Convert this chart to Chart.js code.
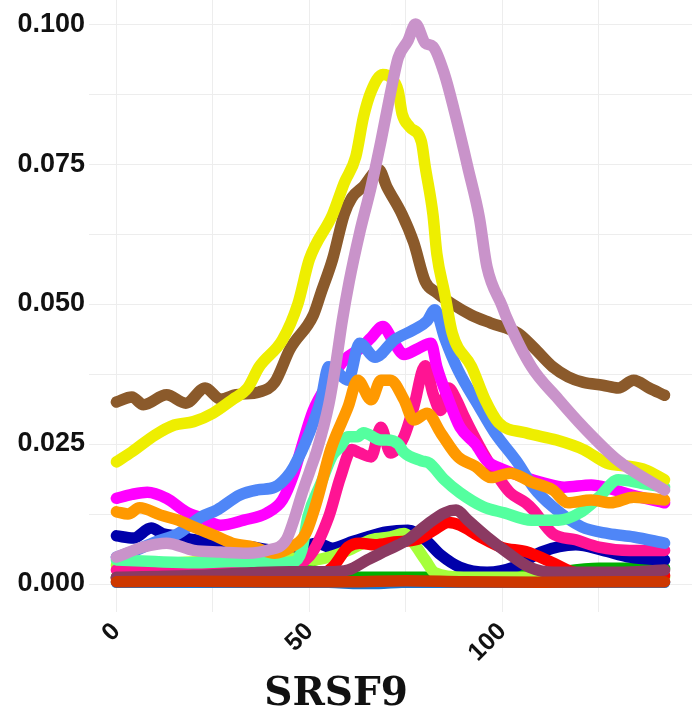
<!DOCTYPE html>
<html>
<head>
<meta charset="utf-8">
<script src="https://cdn.jsdelivr.net/npm/chart.js@4/dist/chart.umd.min.js"></script>
<style>
  html, body { margin: 0; padding: 0; background: #fff; }
</style>
</head>
<body>
<canvas id="chart" width="698" height="709"></canvas>
<script>
// profile along the transcript window (position, density), one array per sample
const geneName = 'SRSF9';

const xGrid = [0, 25, 50, 75, 100, 125];
const yGrid = [0, 0.0125, 0.025, 0.0375, 0.05, 0.0625, 0.075, 0.0875, 0.1];

const brown = [[0,0.0325],[4,0.0334],[7,0.032],[13,0.0338],[18,0.0323],[23,0.035],[27,0.033],[31,0.0338],[37,0.0343],[41,0.036],[45,0.042],[51,0.048],[53,0.052],[56,0.058],[59,0.066],[61,0.069],[64,0.071],[68,0.074],[70,0.071],[74,0.066],[77,0.061],[80,0.054],[83,0.052],[87,0.050],[92,0.048],[97,0.0466],[104,0.0448],[108,0.0423],[113,0.0388],[117,0.037],[121,0.036],[126,0.0355],[130,0.035],[134,0.0364],[138,0.035],[142,0.0337]];

const yellow = [[0,0.0218],[4,0.0236],[10,0.0266],[15,0.0284],[20,0.029],[25,0.0305],[30,0.0329],[34,0.035],[37,0.0388],[43,0.0436],[47,0.05],[50,0.058],[56,0.066],[59,0.0716],[62,0.0763],[64,0.0834],[66,0.088],[69,0.091],[71,0.0905],[73,0.088],[74,0.084],[76,0.0816],[79,0.079],[80,0.0745],[82,0.066],[83,0.059],[85,0.052],[87,0.0448],[92,0.0388],[95.5,0.0329],[99,0.0288],[106,0.027],[114,0.0257],[121,0.024],[127,0.0216],[133,0.021],[137,0.0204],[142,0.0186]];

const plum = [[0,0.0048],[7,0.0066],[13,0.0073],[20,0.006],[27,0.0057],[34,0.0055],[39,0.006],[44,0.0079],[46,0.0115],[48,0.016],[50,0.02],[52,0.024],[55,0.032],[57,0.04],[58.5,0.047],[60.3,0.054],[63,0.0627],[66,0.071],[68.5,0.079],[71,0.0877],[73,0.094],[75.5,0.097],[77.5,0.1],[80,0.0966],[82,0.096],[85,0.091],[87.5,0.0846],[90,0.0775],[91,0.0745],[94,0.0655],[96,0.0566],[100,0.0495],[101,0.0477],[107.5,0.0388],[114.5,0.033],[121,0.028],[130,0.022],[139,0.018],[142,0.0168]];

const cornflower = [[0,0.0048],[5,0.006],[10,0.0075],[16,0.009],[22,0.012],[26,0.0132],[32,0.0159],[36.5,0.0168],[41,0.0173],[44,0.019],[46,0.021],[50,0.027],[53,0.033],[55,0.0388],[57,0.038],[60,0.0364],[63,0.043],[67,0.0405],[72,0.0436],[77,0.0454],[80.5,0.047],[82.5,0.049],[85,0.044],[88.5,0.0382],[94,0.0316],[98,0.027],[104,0.0216],[108,0.0173],[113,0.0138],[120.5,0.0102],[127.5,0.009],[134,0.0084],[142,0.0073]];

const magenta = [[0,0.0153],[4,0.016],[8,0.0164],[13,0.0153],[18,0.0129],[22,0.0118],[27,0.0105],[33,0.0114],[39,0.0127],[43,0.015],[46,0.0198],[48,0.0245],[51,0.031],[55,0.036],[59,0.04],[63,0.042],[66,0.044],[69,0.046],[72,0.043],[74.5,0.041],[78,0.042],[81.5,0.043],[83,0.0388],[86,0.033],[89,0.028],[93,0.025],[96,0.022],[100,0.0205],[106,0.019],[111,0.018],[116,0.0173],[123,0.0177],[128,0.017],[134,0.0158],[142,0.0145]];

const deepPink = [[0,0.0025],[20,0.0025],[40,0.0025],[50,0.005],[55,0.012],[58,0.019],[61,0.024],[63,0.0234],[66,0.0227],[68.5,0.028],[71,0.0234],[74.5,0.0263],[77,0.0316],[80,0.039],[82,0.034],[84,0.031],[86,0.035],[88,0.033],[90,0.03],[95,0.0234],[99,0.019],[102,0.0163],[106,0.0145],[108,0.0132],[113,0.009],[119,0.0079],[125,0.0066],[133,0.006],[142,0.006]];

const orange = [[0,0.0129],[3,0.0125],[6,0.0136],[11.5,0.0123],[16,0.0114],[20,0.0102],[25,0.0088],[30,0.0073],[35.5,0.0066],[41,0.0055],[45,0.0065],[49,0.009],[52,0.015],[55.5,0.024],[60,0.0316],[62.5,0.0364],[66,0.0329],[68.5,0.0364],[71,0.0364],[74.5,0.0329],[77,0.0293],[80.5,0.0305],[84,0.027],[88.5,0.0227],[93,0.021],[97,0.019],[102,0.0198],[107.5,0.0182],[113,0.0168],[117,0.0145],[123,0.015],[128,0.0145],[134,0.0155],[142,0.015]];

const aquamarine = [[0,0.0043],[10,0.004],[20,0.0038],[30,0.004],[40,0.0038],[46,0.004],[48,0.006],[49.6,0.012],[53,0.018],[56,0.023],[58,0.0245],[60,0.0263],[62.5,0.0263],[64,0.027],[68.5,0.0257],[70,0.0257],[73,0.025],[74.5,0.0235],[79,0.022],[81,0.0216],[85,0.0186],[89,0.0163],[95,0.0138],[100.5,0.0127],[107.5,0.0114],[114.5,0.0114],[120,0.0127],[125,0.0155],[130,0.0186],[136,0.018],[142,0.0173]];

const navy = [[0,0.0086],[4.4,0.0082],[9,0.01],[12,0.009],[16,0.0085],[20,0.0079],[25,0.0075],[30,0.007],[35,0.0066],[41,0.006],[45,0.0065],[48,0.0066],[52,0.0073],[56,0.0064],[60,0.0073],[65,0.0084],[70,0.0093],[75.5,0.0096],[80,0.0079],[84,0.0052],[89,0.003],[96,0.0021],[103,0.003],[110,0.0057],[119,0.007],[126,0.006],[133,0.0048],[142,0.0043]];

const maroon = [[0,0.0012],[20,0.0015],[35,0.002],[45,0.0022],[55,0.0022],[60,0.0025],[65,0.0043],[70,0.006],[75.5,0.0079],[81,0.0109],[85,0.0127],[88,0.0132],[91,0.0114],[96,0.0084],[101.5,0.0055],[107,0.003],[113.5,0.0021],[127.5,0.0021],[135,0.0022],[142,0.0025]];

const red = [[0,0.001],[30,0.001],[45,0.0012],[52,0.0015],[56,0.003],[60,0.0066],[63,0.0073],[67,0.007],[72,0.0075],[78,0.008],[82,0.0095],[86,0.011],[89,0.0105],[94,0.0085],[100,0.0065],[106,0.0058],[113,0.0038],[118,0.0022],[125,0.0015],[142,0.0015]];

const greenYellow = [[0,0.0034],[10,0.0036],[22,0.004],[32,0.0042],[39,0.0043],[43,0.0048],[51,0.0043],[56,0.005],[60,0.006],[66,0.0079],[71,0.0084],[74.5,0.009],[77,0.0073],[80,0.0043],[82.5,0.002],[90,0.0012],[110,0.0012],[142,0.0012]];

const green = [[0,0.0012],[30,0.0015],[45,0.0018],[50,0.0025],[55,0.0015],[70,0.0012],[90,0.0012],[110,0.0018],[125,0.0028],[142,0.0028]];

const steel = [[0,0.0003],[55,0.0003],[63,0.0001],[68,0.0001],[74,0.0003],[142,0.0003]];

const orangeRed = [[0,0.0004],[20,0.0005],[40,0.0004],[60,0.0004],[75,0.0006],[90,0.0004],[110,0.0003],[130,0.0004],[142,0.0004]];

// first entry is drawn on top
const series = [
  [orangeRed, '#CD3700'],
  [plum, '#C993CA'],
  [yellow, '#EEEE00'],
  [brown, '#8B5A2B'],
  [maroon, '#8B3A62'],
  [orange, '#FF9900'],
  [aquamarine, '#54FF9F'],
  [cornflower, '#4F86F7'],
  [magenta, '#FF00FF'],
  [deepPink, '#FF1493'],
  [red, '#FF0000'],
  [greenYellow, '#A6FF3A'],
  [navy, '#0000AA'],
  [green, '#00B000'],
  [steel, '#1874CD']
];

const tickFont = { family: '"Liberation Sans", Arial, sans-serif', size: 27, weight: 'bold' };
const gridColor = '#ededed';

const titlePlugin = {
  id: 'geneTitle',
  afterDraw(chart) {
    const c = chart.ctx;
    c.save();
    c.font = 'bold 39px "DejaVu Serif", serif';
    c.fillStyle = '#111';
    c.textAlign = 'center';
    c.textBaseline = 'alphabetic';
    c.fillText(geneName, 336, 705);
    c.restore();
  }
};

const ctx = document.getElementById('chart').getContext('2d');
new Chart(ctx, {
  type: 'line',
  data: {
    datasets: series.map(([pts, col]) => ({
      data: pts,
      borderColor: col,
      backgroundColor: col,
      borderWidth: 11.5,
      pointRadius: 0,
      fill: false,
      cubicInterpolationMode: 'monotone',
      borderCapStyle: 'round',
      borderJoinStyle: 'round'
    }))
  },
  options: {
    responsive: false,
    animation: false,
    layout: { padding: { left: 0, right: 6, top: 0, bottom: 0 } },
    plugins: { legend: { display: false }, tooltip: { enabled: false } },
    scales: {
      x: {
        type: 'linear',
        min: -7.1,
        max: 149.1,
        border: { display: false },
        grid: { color: gridColor, drawTicks: false },
        afterBuildTicks: s => { s.ticks = xGrid.map(v => ({ value: v })); },
        ticks: {
          autoSkip: false,
          minRotation: 45,
          maxRotation: 45,
          padding: 5,
          color: '#111',
          font: { ...tickFont, size: 25 },
          callback: (v, i) => (i % 2 === 0 ? String(v) : '')
        },
        afterFit: s => { s.height = 97; s.paddingLeft = 0; s.paddingRight = 0; }
      },
      y: {
        type: 'linear',
        min: -0.005,
        max: 0.1043,
        border: { display: false },
        grid: { color: gridColor, drawTicks: false },
        afterBuildTicks: s => { s.ticks = yGrid.map(v => ({ value: v })); },
        ticks: {
          padding: 4,
          color: '#111',
          font: tickFont,
          callback: (v, i) => (i % 2 === 0 ? v.toFixed(3) : '')
        },
        afterFit: s => { s.width = 89; s.paddingTop = 0; s.paddingBottom = 0; }
      }
    }
  },
  plugins: [titlePlugin]
});
</script>
</body>
</html>
